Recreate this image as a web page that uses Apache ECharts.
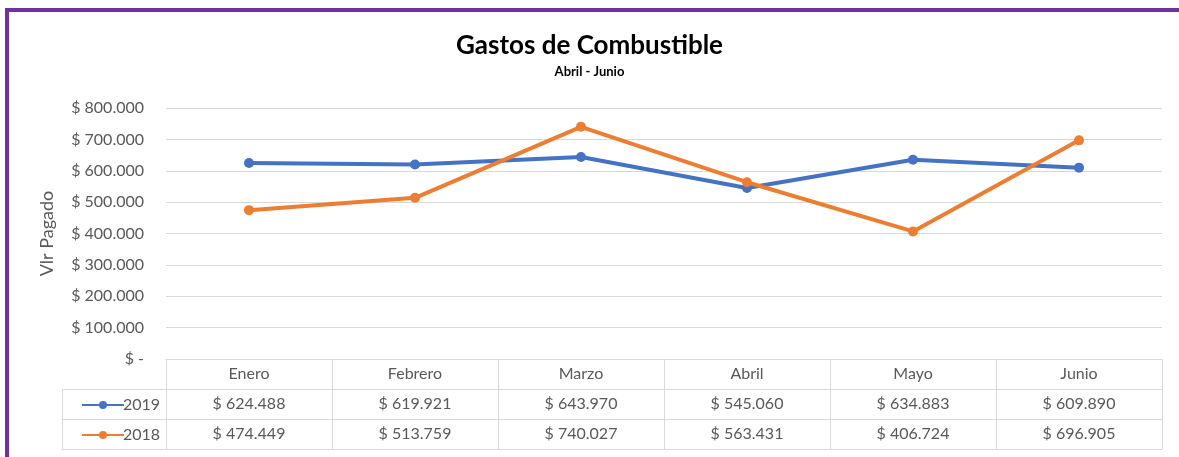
<!DOCTYPE html>
<html>
<head>
<meta charset="utf-8">
<script src="https://cdn.jsdelivr.net/npm/echarts@6/dist/echarts.min.js"></script>
<style>
html,body{margin:0;padding:0;background:#fff;}
#c{width:1179px;height:457px;}
</style>
</head>
<body>
<div id="c"></div>
<script>
const categories = ['Enero', 'Febrero', 'Marzo', 'Abril', 'Mayo', 'Junio'];
const values2019 = [624488, 619921, 643970, 545060, 634883, 609890];
const values2018 = [474449, 513759, 740027, 563431, 406724, 696905];
const seriesNames = ['2019', '2018'];
const yMax = 800000;
const yInterval = 100000;

const FONT = 'Lato, "Liberation Sans", sans-serif';
const GRAY = '#595959';
const GRID_LINE = '#d9d9d9';
const BLUE = '#4472C4';
const ORANGE = '#ED7D31';

// layout constants
const W = 1179, H = 457;
const gridLeft = 166, gridRight = 17, gridTop = 108, gridBottom = 98;
const rowH = 30;
const legendColLeft = 62;
const axisBottomY = H - gridBottom;
const FS = 16;

function money(v) {
  if (v === 0) return '$ -';
  return '$ ' + String(Math.round(v)).replace(/\B(?=(\d{3})+(?!\d))/g, '.');
}

const chart = echarts.init(document.getElementById('c'), null, {renderer: 'canvas'});

function tableAxis(offset, formatter, showTicks) {
  return {
    type: 'category',
    data: categories,
    position: 'bottom',
    offset: offset,
    boundaryGap: true,
    axisLine: {show: true, lineStyle: {color: GRID_LINE, width: 1}},
    axisTick: {show: showTicks, interval: 0, length: rowH * 3, lineStyle: {color: GRID_LINE, width: 1}},
    axisLabel: formatter ? {
      show: true, interval: 0, margin: 7, color: GRAY, fontFamily: FONT, fontSize: FS,
      formatter: formatter
    } : {show: false},
    splitLine: {show: false}
  };
}

const tableLeftLines = [];
for (let r = 1; r <= 3; r++) {
  tableLeftLines.push({
    type: 'line',
    shape: {x1: legendColLeft, y1: axisBottomY + r * rowH + 0.5, x2: gridLeft, y2: axisBottomY + r * rowH + 0.5},
    style: {stroke: GRID_LINE, lineWidth: 1}
  });
}
tableLeftLines.push({
  type: 'line',
  shape: {x1: legendColLeft + 0.5, y1: axisBottomY + rowH, x2: legendColLeft + 0.5, y2: axisBottomY + 3 * rowH},
  style: {stroke: GRID_LINE, lineWidth: 1}
});

const option = {
  backgroundColor: '#fff',
  animation: false,
  title: {
    text: 'Gastos de Combustible',
    subtext: 'Abril - Junio',
    left: 'center',
    top: 28,
    itemGap: 6,
    textStyle: {fontFamily: FONT, fontSize: 26, fontWeight: 'bold', color: '#000'},
    subtextStyle: {fontFamily: FONT, fontSize: 13, fontWeight: 'bold', color: '#000'}
  },
  legend: {
    orient: 'vertical',
    left: 76,
    top: axisBottomY + rowH + 2,
    itemGap: 12,
    itemWidth: 42,
    itemHeight: 10,
    textStyle: {fontFamily: FONT, fontSize: FS, lineHeight: 18, color: GRAY, padding: [0, 0, 0, -6]},
    data: seriesNames
  },
  grid: {left: gridLeft, right: gridRight, top: gridTop, bottom: gridBottom, containLabel: false},
  xAxis: [
    tableAxis(0, (v) => v, true),
    tableAxis(rowH, (v, i) => money(values2019[i]), false),
    tableAxis(rowH * 2, (v, i) => money(values2018[i]), false),
    tableAxis(rowH * 3, null, false)
  ],
  yAxis: {
    type: 'value',
    min: 0,
    max: yMax,
    interval: yInterval,
    name: 'Vlr Pagado',
    nameLocation: 'middle',
    nameGap: 110,
    nameRotate: 90,
    nameTextStyle: {fontFamily: FONT, fontSize: 18, color: GRAY},
    axisLine: {show: false},
    axisTick: {show: false},
    axisLabel: {margin: 22, color: GRAY, fontFamily: FONT, fontSize: FS, formatter: money},
    splitLine: {lineStyle: {color: GRID_LINE, width: 1}}
  },
  series: [
    {
      name: seriesNames[0], type: 'line', xAxisIndex: 0, data: values2019,
      symbol: 'circle', symbolSize: 10,
      lineStyle: {color: BLUE, width: 4}, itemStyle: {color: BLUE}, z: 5
    },
    {
      name: seriesNames[1], type: 'line', xAxisIndex: 0, data: values2018,
      symbol: 'circle', symbolSize: 10,
      lineStyle: {color: ORANGE, width: 4}, itemStyle: {color: ORANGE}, z: 5
    }
  ],
  graphic: tableLeftLines.concat([
    {
      type: 'rect',
      shape: {x: 7, y: 10, width: W + 20, height: H + 20},
      style: {fill: null, stroke: '#7030A0', lineWidth: 4},
      z: 100
    }
  ])
};
chart.setOption(option);
</script>
</body>
</html>
